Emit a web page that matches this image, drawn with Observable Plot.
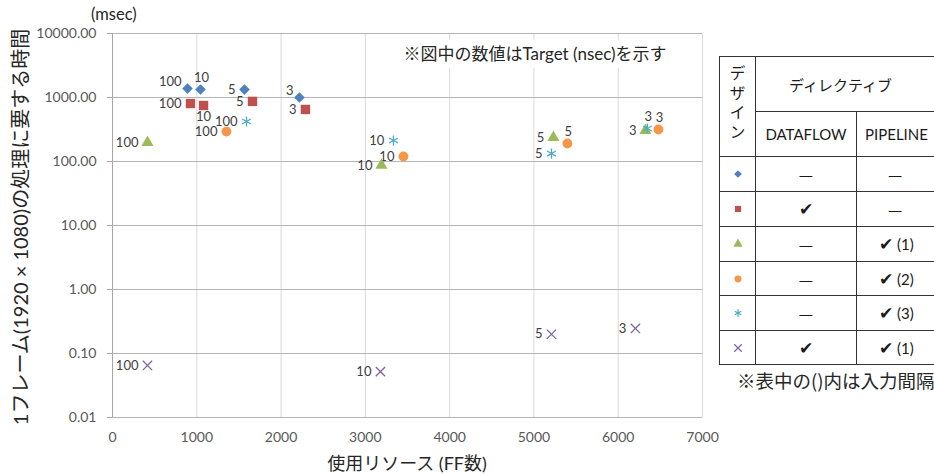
<!DOCTYPE html>
<html><head><meta charset="utf-8">
<script src="https://cdn.jsdelivr.net/npm/d3@7"></script>
<script src="https://cdn.jsdelivr.net/npm/@observablehq/plot@0.6"></script>
<style>
body{margin:0;background:#fff;}
#wrap{position:relative;width:934px;height:474px;overflow:hidden;font-family:Lato,"Noto Sans CJK JP",sans-serif;background:#fff;}
#wrap svg.plot{position:absolute;left:0;top:0;}
.ov{position:absolute;white-space:nowrap;color:#262626;}
#legend{position:absolute;left:719px;top:56px;width:228px;border-collapse:collapse;table-layout:fixed;color:#1a1a1a;background:#fff;}
#legend td{border:1px solid #333;text-align:center;vertical-align:middle;padding:0;}
#legend .jp{font-family:"Noto Sans CJK JP",sans-serif;}
.vert{display:inline-block;writing-mode:vertical-rl;text-orientation:upright;letter-spacing:3.5px;font-size:16px;line-height:20px;}
</style></head><body><div id="wrap"></div>
<script>
// ---- data ----
const designs = ["なし", "DATAFLOW", "PIPELINE(1)", "PIPELINE(2)", "PIPELINE(3)", "DATAFLOW+PIPELINE(1)"];
const targetNs = [100, 10, 5, 3];
const ffDiamond  = [890, 1044, 1566, 2218];
const msDiamond  = [1380, 1334, 1330, 1000];
const ffSquare   = [925, 1080, 1661, 2289];
const msSquare   = [805, 750, 870, 650];
const ffTriangle = [415, 3191, 5231, 6323];
const msTriangle = [198, 87, 237, 305];
const ffCircle   = [1352, 3452, 5397, 6477];
const msCircle   = [294, 120, 191, 316];
const ffAsterisk = [1590, 3333, 5208, 6346];
const msAsterisk = [422, 213, 133, 328];
const ffTimes    = [415, 3179, 5208, 6204];
const msTimes    = [0.065, 0.052, 0.2, 0.246];
const xTicks = [0, 1000, 2000, 3000, 4000, 5000, 6000, 7000];
const yTicks = [0.01, 0.1, 1, 10, 100, 1000, 10000];
const dataflowCol = ["—", "✔", "—", "—", "—", "✔"];
const pipelineCol = ["—", "—", "✔ (1)", "✔ (2)", "✔ (3)", "✔ (1)"];

// ---- build table ----
const ffs = [ffDiamond, ffSquare, ffTriangle, ffCircle, ffAsterisk, ffTimes];
const mss = [msDiamond, msSquare, msTriangle, msCircle, msAsterisk, msTimes];
const rows = [];
designs.forEach((d, i) => targetNs.forEach((t, j) => rows.push({design: d, idx: i, target: t, ff: ffs[i][j], ms: mss[i][j]})));

// ---- styling ----
const colors = ["#4F81BD", "#C0504D", "#9BBB59", "#F79646", "#4BACC6", "#8064A2"];
const symbols = ["diamond2", "square", "triangle", "circle", "asterisk", "times"];
const filled = [true, true, true, true, false, false];
const radii = [4.8, 5.3, 4.5, 4.9, 4.8, 4.3];
const placement = {
  "0|100": "upleft", "0|10": "above", "0|3": "upleft",
  "1|10": "below", "3|5": "above", "3|3": "above", "4|3": "above"
};
const place = r => placement[r.idx + "|" + r.target] || "left";
const offs = {
  left:   {dx: -9, dy: 0, textAnchor: "end"},
  upleft: {dx: -6, dy: -7, textAnchor: "end"},
  above:  {dx: 1, dy: -12, textAnchor: "middle"},
  below:  {dx: 0, dy: 11, textAnchor: "middle"}
};

const marks = [
  Plot.gridX(xTicks, {stroke: "#d9d9d9", strokeOpacity: 1}),
  Plot.gridY(yTicks, {stroke: "#b5b5b5", strokeOpacity: 1}),
  Plot.ruleX([0], {stroke: "#a6a6a6"}),
  Plot.axisX(xTicks, {tickSize: 0, tickPadding: 15, label: null, tickFormat: d => String(d), fontSize: 14}),
  Plot.axisY(yTicks, {tickSize: 5, tickPadding: 11, label: null, tickFormat: d => d.toFixed(2), fontSize: 14, stroke: "#a6a6a6"})
];
Object.entries(offs).forEach(([k, o]) => {
  marks.push(Plot.text(rows.filter(r => place(r) === k), {
    x: "ff", y: "ms", text: d => String(d.target), fill: "#404040", fontSize: 13, ...o
  }));
});
designs.forEach((d, i) => {
  const sub = rows.filter(r => r.idx === i);
  marks.push(Plot.dot(sub, filled[i]
    ? {x: "ff", y: "ms", symbol: symbols[i], r: radii[i], fill: colors[i], stroke: "none"}
    : {x: "ff", y: "ms", symbol: symbols[i], r: radii[i], stroke: colors[i], strokeWidth: 1.3, fill: "none"}));
});

const chart = Plot.plot({
  width: 730, height: 474,
  marginTop: 33, marginBottom: 57, marginLeft: 112, marginRight: 28,
  style: {fontFamily: 'Lato,"Noto Sans CJK JP",sans-serif', fontSize: "14px", color: "#595959", background: "transparent"},
  x: {domain: [0, 7000]},
  y: {type: "log", domain: [0.01, 10000]},
  marks
});
chart.classList.add("plot");
const wrap = document.getElementById("wrap");
wrap.appendChild(chart);

function ov(html, css) {
  const el = document.createElement("div");
  el.className = "ov";
  el.innerHTML = html;
  el.style.cssText += css;
  wrap.appendChild(el);
  return el;
}
ov("(msec)", "left:91px;top:4px;font-size:16.5px;");
ov("※図中の数値はTarget (nsec)を示す", "left:382px;top:40px;width:306px;height:28px;line-height:28px;text-align:center;background:#fff;font-size:17px;");
ov("使用リソース (FF数)", "left:307px;top:450px;width:200px;text-align:center;font-size:18px;line-height:26px;");
ov("1フレーム(1920 × 1080)の処理に要する時間", "left:20px;top:227px;font-size:20px;line-height:26px;transform:translate(-50%,-50%) rotate(-90deg);");

// legend table
const symSvg = i => {
  const p = d3.symbol(d3["symbol" + ({diamond2: "Diamond2", square: "Square", triangle: "Triangle", circle: "Circle", asterisk: "Asterisk", times: "Times"})[symbols[i]]], 38)();
  return `<svg width="14" height="14" style="display:block;margin:auto"><path transform="translate(7,7)" d="${p}" ${filled[i] ? `fill="${colors[i]}"` : `fill="none" stroke="${colors[i]}" stroke-width="1.2"`}/></svg>`;
};
const rowH = [35, 35, 35, 34, 35, 34];
let html = `<colgroup><col style="width:36px"><col style="width:101px"><col style="width:91px"></colgroup>`;
html += `<tr style="height:55px"><td rowspan="2" class="jp"><span class="vert">デザイン</span></td><td colspan="2" class="jp" style="font-size:15px;text-align:left;padding-left:33px;">ディレクティブ</td></tr>`;
html += `<tr style="height:45px"><td style="font-size:15px;">DATAFLOW</td><td style="font-size:15px;text-align:left;padding-left:8px;">PIPELINE</td></tr>`;
designs.forEach((d, i) => {
  const cell = s => s === "—" ? `<span class="jp" style="font-size:16px;">—</span>` : s.replace("✔", `<span style="font-family:'DejaVu Sans';font-size:17px;font-weight:bold;">✔</span>`);
  const p3 = pipelineCol[i] === "—" ? "text-align:left;padding-left:31px;" : "text-align:left;padding-left:22px;";
  html += `<tr style="height:${rowH[i]}px"><td>${symSvg(i)}</td><td style="font-size:15px;">${cell(dataflowCol[i])}</td><td style="font-size:15px;${p3}">${cell(pipelineCol[i])}</td></tr>`;
});
const tbl = document.createElement("table");
tbl.id = "legend";
tbl.innerHTML = html;
wrap.appendChild(tbl);
ov("※表中の()内は入力間隔", "left:737px;top:367px;font-size:18.5px;font-family:'Noto Sans CJK JP',sans-serif;");
</script></body></html>
